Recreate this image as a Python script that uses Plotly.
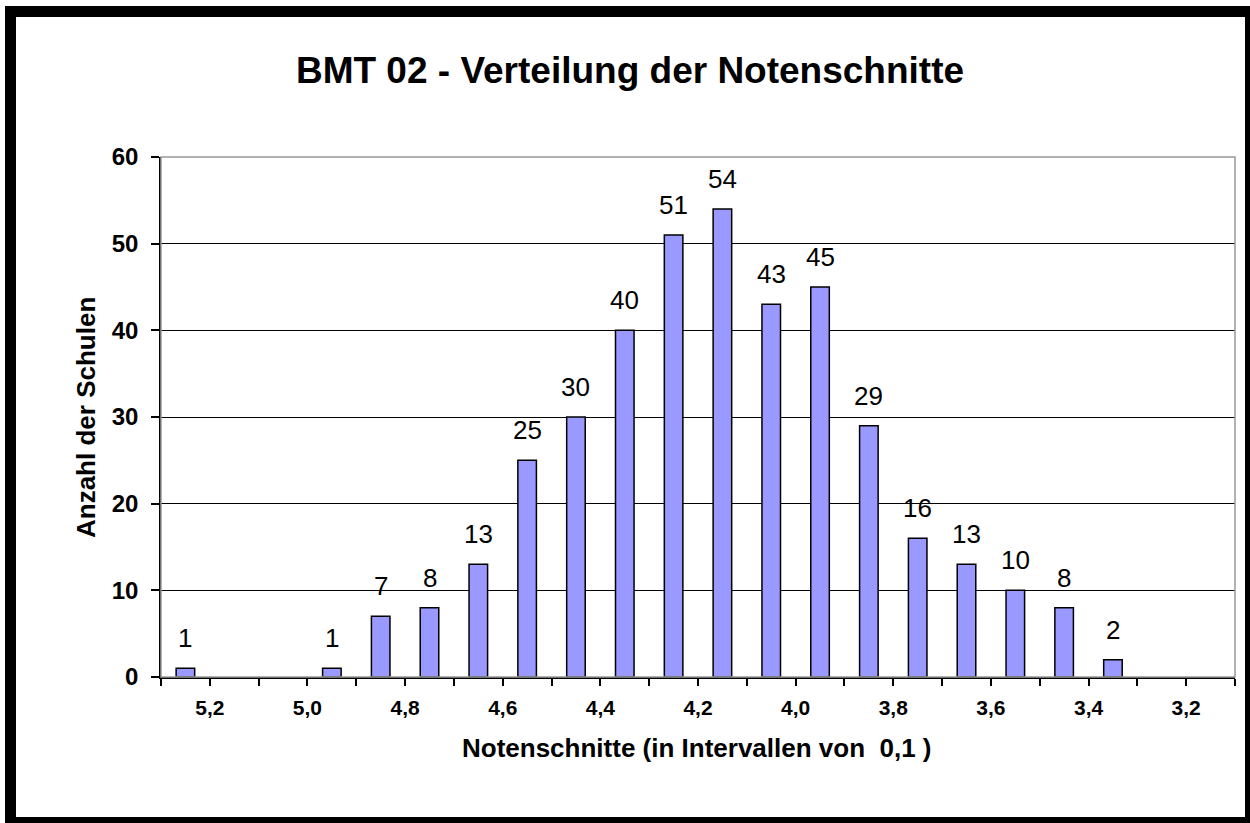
import plotly.graph_objects as go

# ---- data ----
bins = [5.25, 5.15, 5.05, 4.95, 4.85, 4.75, 4.65, 4.55, 4.45, 4.35, 4.25,
        4.15, 4.05, 3.95, 3.85, 3.75, 3.65, 3.55, 3.45, 3.35, 3.25, 3.15]
counts = [1, None, None, 1, 7, 8, 13, 25, 30, 40, 51,
          54, 43, 45, 29, 16, 13, 10, 8, 2, None, None]
tick_vals = [5.3, 5.2, 5.1, 5.0, 4.9, 4.8, 4.7, 4.6, 4.5, 4.4, 4.3, 4.2,
             4.1, 4.0, 3.9, 3.8, 3.7, 3.6, 3.5, 3.4, 3.3, 3.2, 3.1]
tick_text = ["", "5,2", "", "5,0", "", "4,8", "", "4,6", "", "4,4", "", "4,2",
             "", "4,0", "", "3,8", "", "3,6", "", "3,4", "", "3,2", ""]
y_ticks = [0, 10, 20, 30, 40, 50, 60]

title = "BMT 02 - Verteilung der Notenschnitte"
x_title = "Notenschnitte (in Intervallen von  0,1 )"
y_title = "Anzahl der Schulen"

FONT = "Arial, Liberation Sans, sans-serif"
W, H = 1250, 823
L, R, T, B = 161, 15, 157, 146
PW, PH = W - L - R, H - T - B


def px_x(x):
    return (x - L) / PW


def px_y(y):
    return 1 - (y - T) / PH


fig = go.Figure()
fig.add_trace(go.Bar(
    x=bins, y=counts, width=0.038,
    marker=dict(color="#9999FF", line=dict(color="black", width=1.5)),
    hoverinfo="x+y",
))

# data labels
for xv, yv in zip(bins, counts):
    if yv is None:
        continue
    fig.add_annotation(x=xv, y=yv, xref="x", yref="y", text=str(yv),
                       showarrow=False, yanchor="bottom", yshift=13,
                       font=dict(family=FONT, size=26, color="black"))

# axis titles
fig.add_annotation(x=px_x(86), y=px_y(418), xref="paper", yref="paper",
                   xanchor="center", yanchor="middle",
                   text=y_title, textangle=-90, showarrow=False,
                   font=dict(family=FONT, size=26, color="black", weight="bold"))
fig.add_annotation(x=px_x(697), y=px_y(748), xref="paper", yref="paper",
                   xanchor="center", yanchor="middle",
                   text=x_title, showarrow=False,
                   font=dict(family=FONT, size=26, color="black", weight="bold"))

# plot frame (grey top/right)
fig.add_shape(type="rect", xref="paper", yref="paper", x0=0, x1=1, y0=0, y1=1,
              line=dict(color="#999999", width=1.5), layer="above")

# outer black frame
frame = [(5, 6, 16, 823), (5, 6, 1250, 17), (1245, 6, 1250, 823), (5, 817, 1250, 823)]
for x0, y0, x1, y1 in frame:
    fig.add_shape(type="rect", xref="paper", yref="paper",
                  x0=px_x(x0), x1=px_x(x1), y0=px_y(y1), y1=px_y(y0),
                  line=dict(width=0), fillcolor="black", layer="above")

fig.update_layout(
    width=W, height=H,
    margin=dict(l=L, r=R, t=T, b=B),
    paper_bgcolor="white", plot_bgcolor="white",
    showlegend=False,
    title=dict(text=title, x=630 / W, y=1 - 70 / H, xref="container", yref="container",
               xanchor="center", yanchor="middle",
               font=dict(family=FONT, size=37, color="black", weight="bold")),
    xaxis=dict(range=[5.3, 3.1], tickvals=tick_vals, ticktext=tick_text,
               ticks="outside", ticklen=7, tickwidth=1.5, tickcolor="black",
               showline=True, linecolor="black", linewidth=1.5,
               showgrid=False, zeroline=False, ticklabelstandoff=4,
               tickfont=dict(family=FONT, size=21, color="black", weight="bold")),
    yaxis=dict(range=[0, 60], tickvals=y_ticks,
               ticks="outside", ticklen=8, tickwidth=1.5, tickcolor="black",
               showline=True, linecolor="black", linewidth=1.5,
               showgrid=True, gridcolor="black", gridwidth=1.2, zeroline=False,
               ticklabelstandoff=8,
               tickfont=dict(family=FONT, size=24, color="black", weight="bold")),
)

fig.write_html("out.html", config={"displayModeBar": False},
               post_script="document.body.style.margin='0px';")
